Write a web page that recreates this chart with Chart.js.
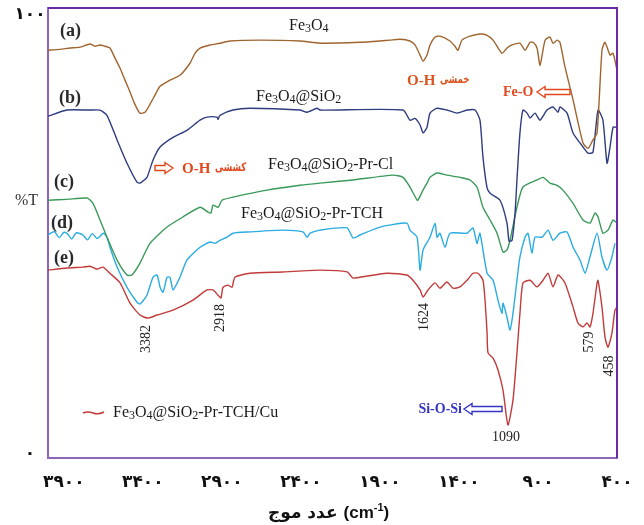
<!DOCTYPE html>
<html><head><meta charset="utf-8">
<script src="https://cdn.jsdelivr.net/npm/chart.js@4/dist/chart.umd.min.js"></script>
<style>html,body{margin:0;padding:0;background:#fff}#wrap{width:644px;height:525px;position:relative}</style>
</head><body><div id="wrap"><canvas id="c" width="644" height="525"></canvas></div>
<script>
const xTicks=[3900,3400,2900,2400,1900,1400,900,400];
const yTicks=[0,100];
const seriesTags=['(a)','(b)','(c)','(d)','(e)'];
const seriesNames=['Fe3O4','Fe3O4@SiO2','Fe3O4@SiO2-Pr-Cl','Fe3O4@SiO2-Pr-TCH','Fe3O4@SiO2-Pr-TCH/Cu'];
const peakLabels=[3382,2918,1624,1090,579,458];

const aWn=[4000,3924,3861,3798,3734,3703,3671,3639,3608,3576,3544,3513,3481,3450,3418,3386,3355,3323,3291,3228,3165,3101,3070,3038,2975,2912,2848,2659,2406,2279,2026,1899,1836,1773,1710,1678,1646,1627,1602,1583,1551,1520,1457,1425,1406,1381,1330,1267,1222,1184,1128,1096,1064,1014,982,950,931,906,887,855,824,805,779,761,729,678,615,583,552,526,495,476,444,425,400];
const aT=[91.8,92.0,92.3,92.5,93.2,92.7,93.0,92.7,92.3,90.0,87.7,85.0,82.3,79.5,77.5,77.7,79.5,81.6,83.6,85.0,86.1,88.9,91.1,92.3,93.0,93.4,93.9,94.1,93.9,93.4,93.6,93.9,94.1,94.3,93.9,93.0,90.7,89.3,90.7,93.0,94.8,95.0,93.9,92.7,91.8,94.1,95.0,95.5,95.2,94.1,91.1,92.3,93.0,93.4,91.8,93.6,93.6,92.3,88.4,94.1,94.8,93.4,94.1,93.6,88.0,80.5,70.7,69.5,71.4,73.0,91.8,93.6,90.7,91.1,87.3];

const bWn=[4000,3880,3734,3671,3627,3563,3500,3437,3418,3374,3336,3291,3209,3121,3038,2994,2931,2924,2912,2830,2722,2406,2361,2298,2279,1754,1710,1678,1646,1627,1602,1583,1539,1476,1412,1349,1298,1267,1248,1222,1203,1140,1096,1083,1064,1045,1033,1014,995,969,950,919,887,843,805,773,761,716,678,615,583,552,520,489,463,444,425,406];
const bT=[76.8,78.2,78.2,78.2,77.0,71.4,66.1,61.8,61.6,62.9,66.8,69.8,72.0,73.6,75.9,76.6,76.6,76.1,77.0,78.2,78.6,78.2,77.7,78.6,78.2,78.2,75.9,76.3,74.8,73.0,74.3,77.5,78.6,78.2,77.5,78.2,78.2,75.9,67.5,60.5,59.3,57.7,52.5,48.4,48.6,54.8,62.3,73.0,78.2,77.5,76.4,77.5,75.9,78.2,78.9,77.7,78.9,77.5,73.0,69.8,68.4,68.6,78.2,75.9,66.1,69.8,74.3,74.3];

const cWn=[4000,3880,3753,3715,3671,3627,3563,3500,3469,3418,3355,3247,3146,3038,2988,2969,2956,2924,2899,2830,2614,2406,2279,2070,1817,1754,1710,1665,1659,1627,1602,1583,1539,1476,1393,1330,1286,1248,1203,1159,1121,1096,1077,1033,995,906,868,824,779,742,678,615,571,539,520,489,457,425,406];
const cT=[57.7,57.9,58.2,57.0,53.2,49.3,44.1,40.7,40.7,43.4,47.9,51.6,53.9,56.1,55.0,54.8,56.6,56.1,57.7,58.4,60.0,61.1,61.6,62.3,63.4,62.9,60.7,57.7,57.7,60.0,61.6,62.9,63.9,63.4,62.9,62.3,60.7,56.1,53.2,50.2,45.9,46.4,48.6,56.1,60.7,62.3,62.9,61.6,61.1,60.0,57.0,53.2,52.5,54.8,53.9,50.2,50.9,53.2,52.7];

const dWn=[4000,3960,3930,3900,3880,3850,3820,3779,3750,3720,3690,3671,3650,3627,3608,3563,3500,3437,3418,3374,3336,3310,3291,3272,3247,3228,3209,3165,3121,3038,2975,2943,2912,2867,2830,2722,2513,2387,2361,2342,2279,2108,2070,2026,1899,1729,1710,1665,1646,1627,1583,1551,1539,1520,1488,1457,1349,1311,1286,1267,1222,1184,1153,1128,1121,1096,1077,1058,1033,1014,982,963,938,919,874,836,805,761,716,678,634,602,571,526,495,463,432,413];
const dT=[49.8,50.6,49.2,50.4,50.2,48.9,50.3,49.8,48.7,50.1,49.0,49.5,50.2,49.3,47.0,42.5,37.9,34.5,34.1,36.1,40.2,40.7,37.9,36.8,40.2,40.2,37.3,40.2,44.1,47.0,48.2,47.9,48.6,49.3,50.2,50.5,50.9,50.5,49.3,50.2,50.9,51.4,49.1,49.8,51.6,52.5,50.9,49.3,41.8,46.4,49.3,52.5,49.3,50.2,47.0,50.2,50.2,51.4,47.9,50.2,41.1,39.5,35.0,32.0,34.3,31.1,28.2,32.0,39.5,44.8,49.3,50.2,45.7,49.3,49.3,50.9,48.6,50.2,50.5,47.0,44.1,41.1,44.8,50.2,44.8,41.8,44.8,47.9];

const eWn=[4000,3880,3779,3734,3690,3652,3608,3544,3481,3418,3367,3310,3209,3083,2994,2956,2924,2905,2893,2861,2836,2817,2722,2513,2279,2108,2070,2026,1855,1729,1691,1646,1627,1596,1551,1520,1476,1438,1393,1349,1311,1279,1248,1235,1222,1216,1184,1153,1121,1090,1058,1033,1014,995,950,906,868,836,805,773,729,678,647,615,590,571,552,526,520,495,476,457,432,413,400];
const eT=[41.8,42.3,42.5,42.7,42.0,42.5,41.1,38.9,34.3,31.6,30.9,31.6,32.7,35.0,37.3,37.3,36.1,35.5,37.9,38.4,37.9,40.2,41.1,41.4,41.8,41.4,40.0,40.2,41.1,40.7,39.5,37.3,35.7,37.3,38.9,37.7,39.1,37.7,38.0,39.5,41.1,41.1,39.5,35.0,27.5,23.0,21.8,19.1,14.5,6.6,12.3,23.0,32.0,38.9,39.5,38.0,39.5,41.1,38.0,40.7,38.9,33.4,29.8,28.9,29.8,28.9,32.0,38.9,39.5,33.4,26.6,24.3,27.5,32.7,33.4];

const colors=['#A0652E','#2F3C80','#3A9A5A','#2AACE2','#C23B3B'];
const fa=n=>String(n).replace(/[0-9]/g,d=>'۰۱۲۳۴۵۶۷۸۹'[d]);
const zip=(w,t)=>w.map((v,i)=>({x:v,y:t[i]}));
const allSeries=[[aWn,aT],[bWn,bT],[cWn,cT],[dWn,dT],[eWn,eT]];

function chem(ctx,str,x,y,size,color){
  ctx.save();ctx.fillStyle=color;ctx.textBaseline='alphabetic';ctx.textAlign='left';
  let cx=x;
  for(const ch of str){
    if(/[0-9]/.test(ch)){ctx.font=Math.round(size*0.72)+'px "Liberation Serif"';ctx.fillText(ch,cx,y+size*0.1);cx+=ctx.measureText(ch).width;}
    else{ctx.font=size+'px "Liberation Serif"';ctx.fillText(ch,cx,y);cx+=ctx.measureText(ch).width;}
  }
  ctx.restore();
}
function hollowArrow(ctx,x0,x1,y,dir,color){
  const sh=2.5,hh=5.5,hl=8;ctx.save();ctx.strokeStyle=color;ctx.lineWidth=1.4;ctx.beginPath();
  if(dir>0){ctx.moveTo(x0,y-sh);ctx.lineTo(x1-hl,y-sh);ctx.lineTo(x1-hl,y-hh);ctx.lineTo(x1,y);ctx.lineTo(x1-hl,y+hh);ctx.lineTo(x1-hl,y+sh);ctx.lineTo(x0,y+sh);}
  else{ctx.moveTo(x1,y-sh);ctx.lineTo(x0+hl,y-sh);ctx.lineTo(x0+hl,y-hh);ctx.lineTo(x0,y);ctx.lineTo(x0+hl,y+hh);ctx.lineTo(x0+hl,y+sh);ctx.lineTo(x1,y+sh);}
  ctx.closePath();ctx.stroke();ctx.restore();
}
function narrowText(ctx,txt,x,y,sx){ctx.save();ctx.translate(x,y);ctx.scale(sx,1);ctx.fillText(txt,0,0);ctx.restore();}

const deco={id:'deco',afterDraw(chart){
  const ctx=chart.ctx,xs=chart.scales.x,ys=chart.scales.y,ca=chart.chartArea;
  ctx.save();
  ctx.strokeStyle='#6C2AA8';ctx.lineWidth=2;ctx.beginPath();
  ctx.moveTo(ca.left,ca.top);ctx.lineTo(ca.right,ca.top);ctx.lineTo(ca.right,ca.bottom);ctx.stroke();
  ctx.fillStyle='#111';ctx.font='bold 17px "DejaVu Sans"';ctx.textAlign='center';ctx.textBaseline='middle';
  yTicks.forEach(v=>ctx.fillText(fa(v),30,ys.getPixelForValue(v)));
  ctx.font='16px "Liberation Serif"';ctx.fillStyle='#333';ctx.textAlign='left';ctx.fillText('%T',15,201);
  ctx.font='bold 18px "Liberation Serif"';ctx.fillStyle='#2a2a2a';
  const tagPos=[[60,31],[59,98],[54,182],[51,223],[54,258]];
  seriesTags.forEach((t,i)=>ctx.fillText(t,tagPos[i][0],tagPos[i][1]));
  const namePos=[[289,30],[256,101],[268,169],[241,218]];
  for(let i=0;i<4;i++)chem(ctx,seriesNames[i],namePos[i][0],namePos[i][1],16,'#1a1a1a');
  ctx.strokeStyle=colors[4];ctx.lineWidth=1.5;ctx.beginPath();ctx.moveTo(83,413);
  ctx.quadraticCurveTo(88,411,93,413);ctx.quadraticCurveTo(98,415,104,412);ctx.stroke();
  chem(ctx,seriesNames[4],113,417,16,'#1a1a1a');
  ctx.fillStyle='#222';ctx.font='14px "Liberation Serif"';
  const peakY={3382:339,2918:318,1624:317,579:342,458:366};
  peakLabels.forEach(p=>{
    if(p===1090){ctx.textAlign='center';ctx.textBaseline='middle';ctx.fillText('1090',xs.getPixelForValue(p)-2,437);return;}
    ctx.save();ctx.translate(xs.getPixelForValue(p)+1,peakY[p]);ctx.rotate(-Math.PI/2);
    ctx.textAlign='center';ctx.textBaseline='middle';ctx.fillText(String(p),0,0);ctx.restore();
  });
  const red='#E2471D';
  hollowArrow(ctx,155,173,168,1,red);
  ctx.fillStyle=red;ctx.textAlign='left';ctx.textBaseline='middle';
  ctx.font='bold 15px "Liberation Serif"';ctx.fillText('O-H',182,169);
  ctx.font='bold 12px "DejaVu Sans"';narrowText(ctx,'کششی',215,168,0.72);
  ctx.fillStyle='#D9541F';ctx.font='bold 15px "Liberation Serif"';ctx.fillText('O-H',407,81);
  ctx.font='bold 12px "DejaVu Sans"';narrowText(ctx,'خمشی',440,80,0.72);
  ctx.fillStyle=red;ctx.font='bold 14px "Liberation Serif"';ctx.fillText('Fe-O',503,92);
  hollowArrow(ctx,537,570,92,-1,red);
  const blue='#3535C5';
  ctx.fillStyle=blue;ctx.font='bold 14px "Liberation Serif"';ctx.textAlign='right';ctx.fillText('Si-O-Si',462,409);
  hollowArrow(ctx,464,502,409,-1,blue);
  ctx.fillStyle='#111';ctx.textAlign='left';ctx.textBaseline='alphabetic';
  ctx.font='bold 17px "DejaVu Sans"';
  const ar='عدد موج';const arW=ctx.measureText(ar).width;
  ctx.fillText(ar,268,518);
  ctx.font='bold 17px "Liberation Sans"';
  let x0=268+arW+6;ctx.fillText('(cm',x0,518);x0+=ctx.measureText('(cm').width;
  ctx.font='bold 11px "Liberation Sans"';ctx.fillText('-1',x0,511);x0+=ctx.measureText('-1').width;
  ctx.font='bold 17px "Liberation Sans"';ctx.fillText(')',x0,518);
  ctx.restore();
}};

new Chart(document.getElementById('c'),{
  type:'scatter',
  data:{datasets:allSeries.map((s,i)=>({label:seriesNames[i],data:zip(s[0],s[1]),showLine:true,borderColor:colors[i],backgroundColor:colors[i],borderWidth:1.4,pointRadius:0,tension:0.2,fill:false}))},
  options:{
    responsive:false,animation:false,devicePixelRatio:1,
    layout:{padding:{left:0,top:8,right:27,bottom:0}},
    plugins:{legend:{display:false},tooltip:{enabled:false}},
    scales:{
      x:{type:'linear',reverse:true,min:400,max:4000,
        afterBuildTicks:s=>{s.ticks=xTicks.map(v=>({value:v}));},
        afterFit:s=>{s.height=67;},
        grid:{display:false},border:{color:'#8B67B4',width:2},
        ticks:{autoSkip:false,maxRotation:0,padding:6,color:'#111',font:{family:'DejaVu Sans',size:17,weight:'bold'},callback:v=>fa(v)}},
      y:{type:'linear',min:-0.9,max:101.4,
        afterBuildTicks:s=>{s.ticks=yTicks.map(v=>({value:v}));},
        afterFit:s=>{s.width=48;},
        grid:{display:false},border:{color:'#8B67B4',width:2},
        ticks:{display:false}}
    }
  },
  plugins:[deco]
});
</script></body></html>
